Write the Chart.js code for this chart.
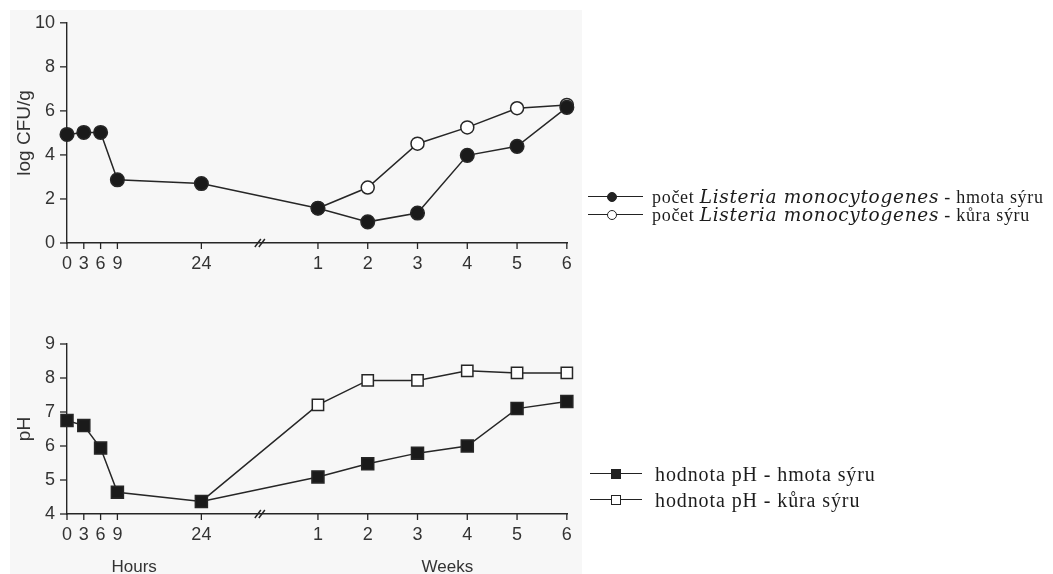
<!DOCTYPE html>
<html>
<head>
<meta charset="utf-8">
<script src="https://cdn.jsdelivr.net/npm/chart.js@4.4.0/dist/chart.umd.min.js"></script>
<style>
  body { margin: 0; width: 1053px; height: 574px; background: #fff; position: relative; overflow: hidden; }
  #scan { position: absolute; left: 10px; top: 10px; width: 572px; height: 564px; background: #f7f7f7; }
  .box { position: absolute; left: 0; width: 600px; }
  #topBox { top: 0; height: 280px; }
  #botBox { top: 300px; height: 274px; }
  .row { position: absolute; white-space: nowrap; display: flex; align-items: center; height: 22px;
         font-family: "Liberation Serif", "Times New Roman", serif; color: #1c1c1c; }
  .row i { font-family: "DejaVu Serif", serif; font-style: italic; }
  .sym { position: relative; height: 22px; }
  .sym .ln { position: absolute; left: 0; right: 0; top: 10px; height: 1.4px; background: #222; }
  .sym .mk { position: absolute; box-sizing: border-box; border: 1.4px solid #222; background: #222; }
  .sym .open { background: #fff; }
  .sym .circ { border-radius: 50%; }
</style>
</head>
<body>
<div id="scan"></div>
<div class="box" id="topBox"><canvas id="grafCfu"></canvas></div>
<div class="box" id="botBox"><canvas id="grafPh"></canvas></div>

<!-- legenda: počet Listeria -->
<div class="row" style="left:588px; top:186px; font-size:18px; letter-spacing:0.7px;">
  <div class="sym" style="width:55px; margin-right:9px;"><div class="ln"></div><div class="mk circ" style="left:19px; top:6px; width:10px; height:10px;"></div></div>
  <span>počet <i style="font-size:18.5px;">Listeria monocytogenes</i> - hmota sýru</span>
</div>
<div class="row" style="left:588px; top:204px; font-size:18px; letter-spacing:0.7px;">
  <div class="sym" style="width:55px; margin-right:9px;"><div class="ln"></div><div class="mk circ open" style="left:19px; top:6px; width:10px; height:10px;"></div></div>
  <span>počet <i style="font-size:18.5px;">Listeria monocytogenes</i> - kůra sýru</span>
</div>

<!-- legenda: pH -->
<div class="row" style="left:590px; top:463px; font-size:20px; letter-spacing:0.9px;">
  <div class="sym" style="width:52px; margin-right:13px;"><div class="ln"></div><div class="mk" style="left:21px; top:6px; width:10px; height:10px;"></div></div>
  <span>hodnota pH - hmota sýru</span>
</div>
<div class="row" style="left:590px; top:489px; font-size:20px; letter-spacing:0.9px;">
  <div class="sym" style="width:52px; margin-right:13px;"><div class="ln"></div><div class="mk open" style="left:21px; top:6px; width:10px; height:10px;"></div></div>
  <span>hodnota pH - kůra sýru</span>
</div>

<script>
// osa x: hodiny a týdny
const hourTicks = [0, 3, 6, 9, 24];
const weekTicks = [1, 2, 3, 4, 5, 6];

// log CFU/g
const cfuHmotaHours = [4.93, 5.02, 5.02, 2.87, 2.7];
const cfuHmotaWeeks = [1.58, 0.96, 1.36, 3.98, 4.39, 6.16];
const cfuKuraHours = [null, null, null, null, null];
const cfuKuraWeeks = [1.58, 2.52, 4.51, 5.25, 6.12, 6.27];

// pH
const phHmotaHours = [6.75, 6.6, 5.94, 4.64, 4.37];
const phHmotaWeeks = [5.09, 5.48, 5.79, 6.0, 7.1, 7.31];
const phKuraHours = [null, null, null, null, 4.37];
const phKuraWeeks = [7.21, 7.93, 7.93, 8.21, 8.15, 8.15];

// poloha týdnů na ose (osa je přerušená mezi 24 h a 1. týdnem)
const WEEK_ORIGIN = 35.93;
const WEEK_STEP = 8.89;
const X_MAX = 89.3;
const BREAK_AT = 34.8;
const weekPos = (w) => WEEK_ORIGIN + w * WEEK_STEP;

const INK = "#262626";
const TXT = "#333";
const xTickLabels = hourTicks.map(String).concat(weekTicks.map(String));

function toPoints(hoursVals, weeksVals) {
  const pts = [];
  hourTicks.forEach((h, i) => { if (hoursVals[i] != null) pts.push({ x: h, y: hoursVals[i] }); });
  weekTicks.forEach((w, i) => { if (weeksVals[i] != null) pts.push({ x: weekPos(w), y: weeksVals[i] }); });
  return pts;
}

// kreslí krátké značky na osách, přerušení // a popisky Hours / Weeks
const axisMarks = {
  id: "axisMarks",
  afterDraw(chart, args, opts) {
    const { ctx, chartArea, scales } = chart;
    const x = scales.x, y = scales.y;
    ctx.save();
    ctx.strokeStyle = INK;
    ctx.lineWidth = 1.3;
    const seg = (x1, y1, x2, y2) => { ctx.beginPath(); ctx.moveTo(x1, y1); ctx.lineTo(x2, y2); ctx.stroke(); };
    y.ticks.forEach((t) => {
      const py = y.getPixelForValue(t.value);
      const len = t.label !== "" ? 7 : 3.5;
      seg(chartArea.left - len, py, chartArea.left, py);
    });
    x.ticks.forEach((t) => {
      const px = x.getPixelForValue(t.value);
      seg(px, chartArea.bottom, px, chartArea.bottom + 6);
    });
    const bx = x.getPixelForValue(BREAK_AT);
    const by = chartArea.bottom;
    ctx.lineWidth = 1.5;
    seg(bx - 7, by + 4, bx - 1, by - 4);
    seg(bx - 3, by + 4, bx + 3, by - 4);
    if (opts.titles) {
      ctx.fillStyle = TXT;
      ctx.font = "17px 'Liberation Sans', Arial, sans-serif";
      ctx.textAlign = "center";
      ctx.textBaseline = "middle";
      opts.titles.forEach((tt) => ctx.fillText(tt.text, x.getPixelForValue(tt.at), by + 53));
    }
    ctx.restore();
  },
};

function buildChart(canvasId, cfg) {
  const ctx = document.getElementById(canvasId).getContext("2d");
  return new Chart(ctx, {
    type: "line",
    data: { datasets: cfg.datasets },
    options: {
      responsive: true,
      maintainAspectRatio: false,
      animation: false,
      layout: { padding: { top: cfg.padTop, right: 33, left: 0, bottom: 0 } },
      plugins: { legend: { display: false }, tooltip: { enabled: false }, axisMarks: { titles: cfg.titles } },
      scales: {
        x: {
          type: "linear",
          min: 0,
          max: X_MAX,
          afterFit: (s) => { s.height = cfg.xHeight; },
          afterBuildTicks: (s) => {
            s.ticks = hourTicks.map((h) => ({ value: h })).concat(weekTicks.map((w) => ({ value: weekPos(w) })));
          },
          grid: { display: false, drawTicks: false },
          border: { display: true, color: INK, width: 1.4 },
          ticks: {
            autoSkip: false,
            maxRotation: 0,
            padding: 10,
            color: TXT,
            font: { family: "'Liberation Sans', Arial, sans-serif", size: 18 },
            callback: (v, i) => xTickLabels[i],
          },
        },
        y: {
          min: cfg.yMin,
          max: cfg.yMax,
          afterFit: (s) => { s.width = 67; },
          grid: { display: false, drawTicks: false },
          border: { display: true, color: INK, width: 1.4 },
          title: {
            display: true,
            text: cfg.yTitle,
            color: TXT,
            font: { family: "'Liberation Sans', Arial, sans-serif", size: 19 },
            padding: { top: 13, bottom: 0 },
          },
          ticks: {
            stepSize: cfg.yStep,
            padding: 12,
            color: TXT,
            font: { family: "'Liberation Sans', Arial, sans-serif", size: 18 },
            callback: cfg.yLabel,
          },
        },
      },
    },
    plugins: [axisMarks],
  });
}

const lineStyle = { borderColor: INK, borderWidth: 1.5, pointBorderColor: INK, pointBorderWidth: 1.5, clip: false, tension: 0 };

buildChart("grafCfu", {
  padTop: 20,
  xHeight: 37,
  yMin: 0, yMax: 10, yStep: 1,
  yTitle: "log CFU/g",
  yLabel: (v) => (v % 2 === 0 ? v : ""),
  datasets: [
    { ...lineStyle, label: "hmota sýru", data: toPoints(cfuHmotaHours, cfuHmotaWeeks),
      pointStyle: "circle", pointRadius: 6.8, pointBackgroundColor: "#1a1a1a" },
    { ...lineStyle, label: "kůra sýru", data: toPoints(cfuKuraHours, cfuKuraWeeks),
      pointStyle: "circle", pointRadius: 6.5, pointBackgroundColor: "#fff" },
  ],
});

buildChart("grafPh", {
  padTop: 44,
  xHeight: 60,
  yMin: 4, yMax: 9, yStep: 0.5,
  yTitle: "pH",
  yLabel: (v) => (Number.isInteger(v) ? v : ""),
  titles: [{ text: "Hours", at: 12 }, { text: "Weeks", at: weekPos(3.6) }],
  datasets: [
    { ...lineStyle, label: "hmota sýru", data: toPoints(phHmotaHours, phHmotaWeeks),
      pointStyle: "rect", pointRadius: 8.5, pointBackgroundColor: "#1a1a1a" },
    { ...lineStyle, label: "kůra sýru", data: toPoints(phKuraHours, phKuraWeeks),
      pointStyle: "rect", pointRadius: 8, pointBackgroundColor: "#fff" },
  ],
});
</script>
</body>
</html>
